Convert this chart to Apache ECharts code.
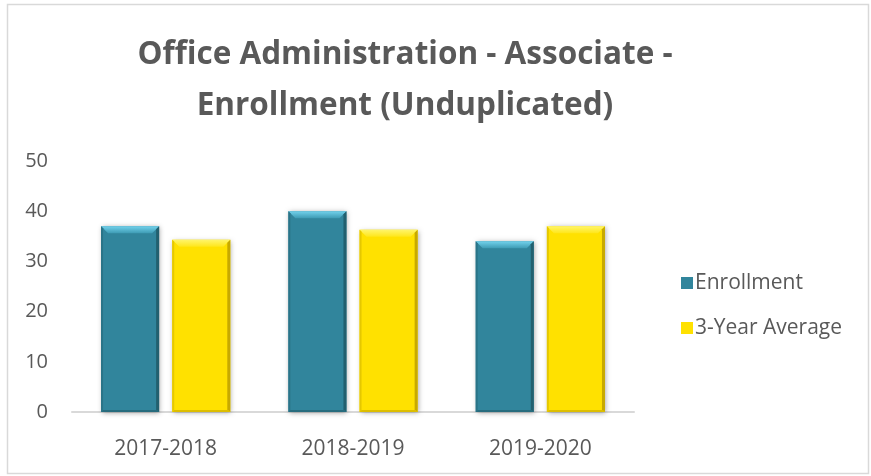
<!DOCTYPE html>
<html>
<head>
<meta charset="utf-8">
<script src="https://cdn.jsdelivr.net/npm/echarts@6/dist/echarts.min.js"></script>
<style>
  html, body { margin: 0; padding: 0; background: #fff; }
  #chart { width: 871px; height: 476px; }
</style>
</head>
<body>
<div id="chart"></div>
<script>
// Academic years on the x axis
const years = ['2017-2018', '2018-2019', '2019-2020'];
// Unduplicated headcount per year
const enrollment = [37, 40, 34];
// Rolling three-year average
const threeYearAverage = [34.3, 36.3, 37];
// Value axis ticks
const yTicks = [0, 10, 20, 30, 40, 50];

const palettes = [
  { face: '#31859C', top: '#72D2EC', topEnd: '#3E9BB4', left: '#2A7488', right: '#22606F', bottom: '#276C7E' },
  { face: '#FFE100', top: '#FFF56A', topEnd: '#FFE61A', left: '#E5C800', right: '#C7A900', bottom: '#DDBE00' }
];

const BAR_RATIO = 0.31;   // bar width as a share of the category band
const GAP_RATIO = 0.07;   // space between the two bars of a year
const BEVEL = 7;          // height of the bevelled top face, px

function bevelBar(seriesIdx) {
  const pal = palettes[seriesIdx];
  return function (params, api) {
    const idx = api.value(0);
    const val = api.value(1);
    const band = api.size([1, 0])[0];
    const w = band * BAR_RATIO;
    const gap = band * GAP_RATIO;
    const cx = api.coord([idx, 0])[0];
    const yBase = api.coord([idx, 0])[1];
    const yTop = api.coord([idx, val])[1];
    const x0 = seriesIdx === 0 ? cx - gap / 2 - w : cx + gap / 2;
    const x1 = x0 + w;
    const h = yBase - yTop;
    const b = Math.min(BEVEL, h / 2);
    return {
      type: 'group',
      children: [
        {
          type: 'rect',
          shape: { x: x0, y: yTop, width: w, height: h },
          style: {
            fill: pal.face,
            shadowBlur: 5,
            shadowOffsetX: 1,
            shadowOffsetY: 1,
            shadowColor: 'rgba(0,0,0,0.35)'
          }
        },
        {
          type: 'polygon',
          shape: { points: [[x0, yTop], [x1, yTop], [x1 - b, yTop + b], [x0 + b, yTop + b]] },
          style: {
            fill: new echarts.graphic.LinearGradient(0, 0, 0, 1, [
              { offset: 0, color: pal.top },
              { offset: 1, color: pal.topEnd }
            ])
          }
        },
        {
          type: 'polygon',
          shape: { points: [[x0, yTop], [x0 + 2, yTop + 2], [x0 + 2, yBase - 2], [x0, yBase]] },
          style: { fill: pal.left }
        },
        {
          type: 'polygon',
          shape: { points: [[x1, yTop], [x1 - 3, yTop + 3], [x1 - 3, yBase - 2], [x1, yBase]] },
          style: { fill: pal.right }
        },
        {
          type: 'polygon',
          shape: { points: [[x0, yBase], [x1, yBase], [x1 - 2, yBase - 2], [x0 + 2, yBase - 2]] },
          style: { fill: pal.bottom }
        }
      ]
    };
  };
}

const chart = echarts.init(document.getElementById('chart'), null, { renderer: 'canvas' });

const fontFamily = '"Open Sans", "Noto Sans", sans-serif';
const textGray = '#595959';

chart.setOption({
  animation: false,
  backgroundColor: '#ffffff',
  title: {
    text: 'Office Administration - Associate -\nEnrollment (Unduplicated)',
    left: 400,
    top: 25,
    textAlign: 'center',
    textStyle: {
      fontFamily: fontFamily,
      fontWeight: 'bold',
      fontSize: 31.5,
      lineHeight: 51,
      color: textGray
    }
  },
  legend: {
    orient: 'vertical',
    left: 676,
    top: 266,
    itemWidth: 12,
    itemHeight: 12,
    itemGap: 21,
    icon: 'rect',
    textStyle: {
      fontFamily: fontFamily,
      fontSize: 21,
      lineHeight: 24,
      color: textGray,
      padding: [0, 0, 0, -3]
    },
    data: ['Enrollment', '3-Year Average']
  },
  grid: {
    left: 72,
    top: 161,
    width: 562,
    height: 251,
    containLabel: false
  },
  xAxis: {
    type: 'category',
    data: years,
    axisLine: { show: true, lineStyle: { color: '#d9d9d9', width: 2 } },
    axisTick: { show: false },
    axisLabel: {
      margin: 27,
      fontFamily: fontFamily,
      fontSize: 21,
      color: textGray
    }
  },
  yAxis: {
    type: 'value',
    min: yTicks[0],
    max: yTicks[yTicks.length - 1],
    interval: yTicks[1] - yTicks[0],
    axisLine: { show: false },
    axisTick: { show: false },
    splitLine: { show: false },
    axisLabel: {
      margin: 24,
      fontFamily: fontFamily,
      fontSize: 20,
      color: textGray
    }
  },
  series: [
    {
      name: 'Enrollment',
      type: 'custom',
      renderItem: bevelBar(0),
      itemStyle: { color: palettes[0].face },
      encode: { x: 0, y: 1 },
      data: enrollment.map((v, i) => [i, v])
    },
    {
      name: '3-Year Average',
      type: 'custom',
      renderItem: bevelBar(1),
      itemStyle: { color: palettes[1].face },
      encode: { x: 0, y: 1 },
      data: threeYearAverage.map((v, i) => [i, v])
    }
  ],
  graphic: [
    {
      type: 'rect',
      silent: true,
      shape: { x: 7.5, y: 4.5, width: 861, height: 469 },
      style: { fill: 'none', stroke: '#d9d9d9', lineWidth: 1.5 }
    }
  ]
});
</script>
</body>
</html>
